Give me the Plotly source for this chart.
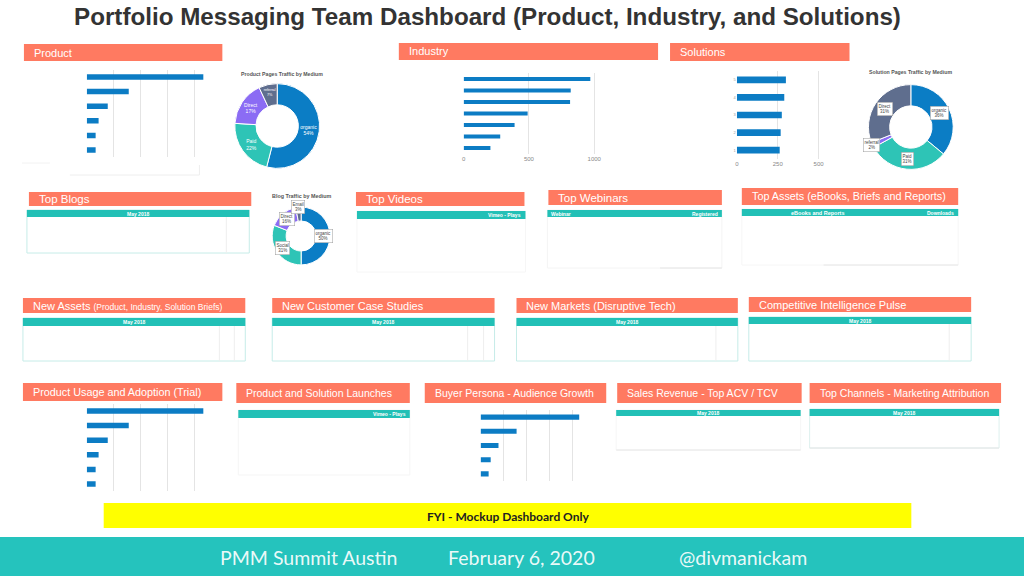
import math
import plotly.graph_objects as go

W, H = 1024, 576
def X(px): return px / W
def Y(py): return 1 - py / H

# ---------------- data ----------------
TITLE = "Portfolio Messaging Team Dashboard (Product, Industry, and Solutions)"

product_pages = ["Page A", "Page B", "Page C", "Page D", "Page E", "Page F"]
product_views = [433, 156, 78, 44, 33, 33]

industry_pages = ["Ind 1", "Ind 2", "Ind 3", "Ind 4", "Ind 5", "Ind 6", "Ind 7"]
industry_views = [970, 820, 815, 490, 390, 280, 205]

solution_pages = ["5", "4", "3", "2", "1"]
solution_views = [300, 290, 275, 268, 262]

trial_items = ["Trial A", "Trial B", "Trial C", "Trial D", "Trial E", "Trial F"]
trial_counts = [433, 156, 78, 44, 33, 33]

persona_items = ["Persona A", "Persona B", "Persona C", "Persona D", "Persona E"]
persona_counts = [430, 157, 78, 44, 35]

product_medium = ["organic", "Paid", "Direct", "referral"]
product_share = [54, 22, 17, 7]

solution_medium = ["organic", "Paid", "referral", "Direct"]
solution_share = [36, 31, 2, 31]

blog_medium = ["organic", "Social", "Direct", "Email"]
blog_share = [50, 31, 16, 3]

industry_ticks = [0, 500, 1000]
solution_ticks = [0, 250, 500]
product_grid = [100, 200, 300, 400]

FOOTER = ["PMM Summit Austin", "February 6, 2020", "@divmanickam"]
NOTE = "FYI - Mockup Dashboard Only"

# ---------------- styles ----------------
SALMON = "#FF7A61"
TEAL = "#22C0B6"
FOOT = "#25C3BD"
BLUE = "#0C7CC4"
SLICE_COLS = ["#0B7DC5", "#2EC4B6", "#8B6CF4", "#5F6E8E"]
FONT = "Liberation Sans, Arial, sans-serif"

fig = go.Figure()
shapes = []
annots = []

def rect(x0, x1, y0, y1, fill=None, line=None, lw=0):
    shapes.append(dict(type="rect", xref="paper", yref="paper",
                       x0=X(x0), x1=X(x1), y0=Y(y1), y1=Y(y0),
                       fillcolor=fill if fill else "rgba(0,0,0,0)",
                       line=dict(color=line if line else "rgba(0,0,0,0)", width=lw),
                       layer="below"))

def hline(x0, x1, y, color, w=1):
    shapes.append(dict(type="line", xref="paper", yref="paper", x0=X(x0), x1=X(x1),
                       y0=Y(y), y1=Y(y), line=dict(color=color, width=w), layer="below"))

def vline(x, y0, y1, color, w=1):
    shapes.append(dict(type="line", xref="paper", yref="paper", x0=X(x), x1=X(x),
                       y0=Y(y0), y1=Y(y1), line=dict(color=color, width=w), layer="below"))

def text(px, py, s, size, color, xa="center", bold=False, family=FONT):
    annots.append(dict(x=X(px), y=Y(py), xref="paper", yref="paper", text=f"<b>{s}</b>" if bold else s,
                       showarrow=False, xanchor=xa, yanchor="middle",
                       font=dict(size=size, color=color, family=family)))

# title
text(487, 17, TITLE, 24.2, "#333333", bold=True)

# section headers
headers = [
    ("Product", 22, 221, 44, 61, 11),
    ("Industry", 398, 658, 43, 60, 11),
    ("Solutions", 670, 850, 43, 61, 11),
    ("Top Blogs", 27, 250, 192, 206, 11.5),
    ("Top Videos", 355, 524, 192, 206, 11.5),
    ("Top Webinars", 548, 722, 190, 205, 11.5),
    ("Top Assets (eBooks, Briefs and Reports)", 742, 959, 188, 205, 10.8),
    ("New Assets <span style='font-size:8.5px'>(Product, Industry, Solution Briefs)</span>", 21, 244, 298, 313, 11),
    ("New Customer Case Studies", 271, 494, 298, 313, 11),
    ("New Markets (Disruptive Tech)", 516, 738, 298, 313, 11),
    ("Competitive Intelligence Pulse", 749, 972, 297, 312, 11),
    ("Product Usage and Adoption (Trial)", 21, 221, 383, 401, 10.8),
    ("Product and Solution Launches", 235, 409, 383, 403, 10.5),
    ("Buyer Persona - Audience Growth", 424, 606, 383, 403, 10.5),
    ("Sales Revenue - Top ACV / TCV", 617, 802, 383, 403, 10.5),
    ("Top Channels - Marketing Attribution", 810, 1002, 383, 403, 10.5),
]
for s, x0, x1, y0, y1, fs in headers:
    rect(x0, x1, y0, y1, fill=SALMON)
    text(x0 + 8, (y0 + y1) / 2, s, fs, "white", xa="left")

# tables: x0, x1, header y0, y1, body bottom, labels, border colour
tables = [
    (25, 248, 210, 217, 253, [("May 2018", "c")], "#C6ECE8"),
    (356, 525, 211, 219, 272, [("Vimeo - Plays", "r")], "#F6F6F6"),
    (547, 722, 210, 217, 268, [("Webinar", "l"), ("Registered", "r")], "#F4F4F4"),
    (742, 959, 209, 216, 265, [("eBooks and Reports", 0.35), ("Downloads", "r")], "#F6F6F6"),
    (21, 244, 318, 326, 361, [("May 2018", "c")], "#C6ECE8"),
    (271, 494, 318, 326, 361, [("May 2018", "c")], "#C6ECE8"),
    (516, 738, 318, 326, 361, [("May 2018", "c")], "#C6ECE8"),
    (749, 972, 317, 324, 361, [("May 2018", "c")], "#C6ECE8"),
    (237, 409, 410, 418, 475, [("Vimeo - Plays", "r")], "#F5F5F5"),
    (616, 801, 410, 416, 450, [("May 2018", "c")], "#F6F6F6"),
    (810, 1000, 409, 416, 448, [("May 2018", "c")], "#DDF0EE"),
]
for x0, x1, y0, y1, yb, labs, bc in tables:
    rect(x0, x1, y0, yb, line=bc, lw=1)
    rect(x0, x1, y0, y1, fill=TEAL)
    for s, pos in labs:
        ym = (y0 + y1) / 2
        if pos == "c":
            text((x0 + x1) / 2, ym, s, 5, "white", bold=True)
        elif pos == "r":
            text(x1 - 2, ym, s, 5, "white", xa="right", bold=True)
        elif pos == "l":
            text(x0 + 2, ym, s, 5, "white", xa="left", bold=True)
        else:
            text(x0 + (x1 - x0) * pos, ym, s, 5.5, "white", bold=True)

# faint inner column lines and bottom rules of the tables
for x, y0, y1 in [(225, 217, 253), (218, 326, 361), (233, 326, 361), (467, 326, 361),
                  (483, 326, 361), (716, 326, 361), (950, 324, 361)]:
    vline(x, y0, y1, "#EEEEEE")
for x0, x1, y in [(616, 801, 450), (810, 1000, 448), (824, 959, 265), (660, 722, 268)]:
    hline(x0, x1, y, "#E6E6E6")
# faint frame remnants around the product bar chart
hline(68, 198, 175, "#EEEEEE")
vline(198, 165, 175, "#EEEEEE")
hline(20, 48, 163, "#F2F2F2")

# ---------------- bar charts ----------------
layout_axes = {}
def add_bar(idx, cats, vals, xd, yd, xr, tickvals, xlabels, ylabels, width):
    a = "" if idx == 1 else str(idx)
    fig.add_trace(go.Bar(x=vals, y=cats, orientation="h", marker=dict(color=BLUE, line=dict(width=0)),
                         width=width, xaxis="x" + a, yaxis="y" + a, hoverinfo="skip", showlegend=False))
    layout_axes["xaxis" + a] = dict(domain=[X(xd[0]), X(xd[1])], range=xr, anchor="y" + a,
                                    tickmode="array", tickvals=tickvals, showgrid=True,
                                    gridcolor="#E4E4E4", gridwidth=1, zeroline=False, showline=False,
                                    showticklabels=xlabels, ticks="", fixedrange=True,
                                    tickfont=dict(size=6, color="#888888", family=FONT))
    layout_axes["yaxis" + a] = dict(domain=[Y(yd[1]), Y(yd[0])], anchor="x" + a, type="category",
                                    categoryorder="array", categoryarray=cats, autorange="reversed",
                                    showgrid=False, zeroline=False, showline=False, ticks="",
                                    showticklabels=ylabels, fixedrange=True,
                                    tickfont=dict(size=4, color="#999999", family=FONT))

add_bar(1, product_pages, product_views, (85, 206.5), (69.7, 157.3), [0, 450], product_grid, False, False, 0.38)
add_bar(2, industry_pages, industry_views, (463, 600), (73.3, 153.7), [0, 1046], industry_ticks, True, False, 0.35)
add_bar(3, solution_pages, solution_views, (737, 830), (71, 159), [0, 567], solution_ticks, True, True, 0.38)
add_bar(4, trial_items, trial_counts, (85, 206.5), (403.7, 491.3), [0, 450], product_grid, False, False, 0.38)
add_bar(5, persona_items, persona_counts, (480, 583.5), (410, 481), [0, 450], product_grid, False, False, 0.36)

# ---------------- donuts ----------------
def add_donut(labels, vals, cx, cy, r, hole, inside_text):
    fig.add_trace(go.Pie(
        labels=labels, values=vals, hole=hole, sort=False, direction="clockwise", rotation=0,
        domain=dict(x=[X(cx - r), X(cx + r)], y=[Y(cy + r), Y(cy - r)]),
        marker=dict(colors=SLICE_COLS[:len(labels)], line=dict(color="white", width=1)),
        textinfo="label+percent" if inside_text else "none",
        texttemplate="%{label}<br>%{percent}" if inside_text else None,
        textposition="inside", insidetextorientation="horizontal",
        insidetextfont=dict(size=5, color="white", family=FONT),
        showlegend=False, hoverinfo="skip"))

def boxed_labels(labels, vals, cx, cy, r, hole):
    tot = float(sum(vals))
    cum = 0.0
    for l, v in zip(labels, vals):
        mid = (cum + v / 2) / tot * 2 * math.pi
        cum += v
        share = v / tot
        rr = r * (1 + hole) / 2 if share >= 0.05 else r * 1.02
        px = cx + rr * math.sin(mid)
        py = cy - rr * math.cos(mid)
        annots.append(dict(x=X(px), y=Y(py), xref="paper", yref="paper",
                           text=f"{l}<br>{round(share * 100)}%", showarrow=False,
                           xanchor="center", yanchor="middle", bgcolor="white",
                           bordercolor="#9A9A9A", borderwidth=0.5, borderpad=1,
                           font=dict(size=4.5, color="#444444", family=FONT)))

add_donut(product_medium, product_share, 276, 126, 42.5, 0.5, True)
text(281, 74, "Product Pages Traffic by Medium", 5.2, "#555555", bold=True)

add_donut(solution_medium, solution_share, 911.5, 127, 42.5, 0.5, False)
boxed_labels(solution_medium, solution_share, 911.5, 127, 42.5, 0.5)
text(911, 72, "Solution Pages Traffic by Medium", 5.2, "#555555", bold=True)

add_donut(blog_medium, blog_share, 300, 236, 29, 0.52, False)
boxed_labels(blog_medium, blog_share, 300, 236, 29, 0.52)
text(301, 196, "Blog Traffic by Medium", 5.4, "#555555", bold=True)

# ---------------- note & footer ----------------
rect(102, 912, 503, 528, fill="#FFFF00")
text(507, 516, NOTE, 12, "#222222", bold=True, family="Lato, Open Sans, sans-serif")
rect(-2, 1026, 537, 578, fill=FOOT)
for s, cx in zip(FOOTER, [307, 521, 743]):
    text(cx, 557, s, 19.5, "rgba(255,255,255,0.92)", family="Lato, Open Sans, sans-serif")

fig.update_layout(width=W, height=H, margin=dict(l=0, r=0, t=0, b=0),
                  paper_bgcolor="white", plot_bgcolor="rgba(0,0,0,0)",
                  shapes=shapes, annotations=annots, showlegend=False,
                  **layout_axes)
fig.write_html("out.html", config={"displayModeBar": False},
               post_script="document.body.style.margin='0';document.body.style.overflow='hidden';")
